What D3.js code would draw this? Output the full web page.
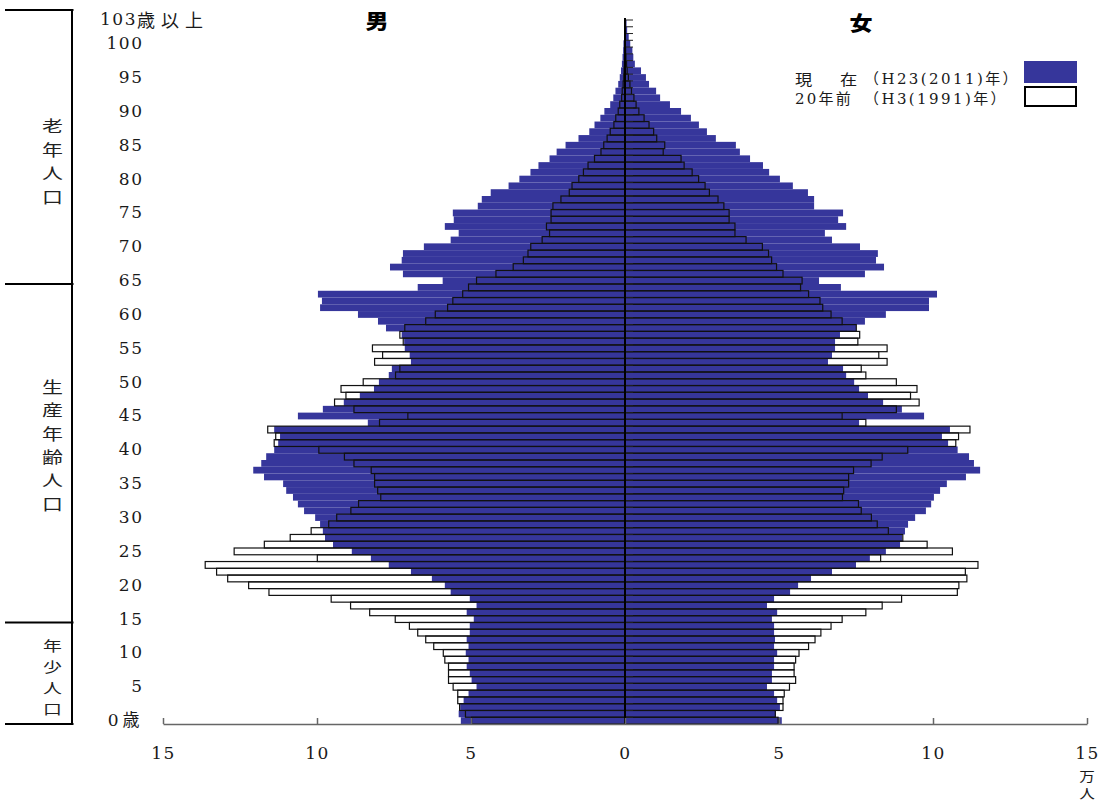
<!DOCTYPE html>
<html><head><meta charset="utf-8">
<script src="https://cdn.jsdelivr.net/npm/d3@7"></script>
<style>
html,body{margin:0;padding:0;background:#fff;}
svg{display:block;}
</style></head><body>
<svg id="chart" width="1105" height="802"></svg>
<script>
// ---- data (unit: 万人), index = age 0..103 (103 = 103歳以上) ----
const ages = d3.range(0, 104);

const male2011 = [
 5.33,5.40,5.35,5.24,5.08,4.82,4.98,5.04,5.14,5.08,
 5.17,5.08,5.14,5.04,5.04,4.91,5.14,4.82,5.04,5.66,
 5.85,6.27,6.95,7.67,8.25,8.87,9.48,9.74,9.81,9.90,
 10.06,10.42,10.62,10.78,11.00,11.10,11.72,12.07,11.81,11.65,
 11.39,11.26,11.20,11.39,8.35,10.62,9.81,9.13,8.61,8.15,
 7.99,7.67,7.57,6.95,6.99,7.15,7.17,7.25,7.76,8.02,
 8.67,9.90,9.84,9.97,6.73,5.92,7.21,7.63,7.25,7.21,
 6.53,5.66,5.40,5.85,5.56,5.59,4.78,4.65,4.36,3.78,
 3.43,3.07,2.81,2.45,2.22,1.93,1.51,1.16,0.99,0.80,
 0.67,0.48,0.38,0.31,0.22,0.17,0.13,0.10,0.08,0.06,
 0.05,0.03,0.02,0.02
];
const male1991 = [
 4.98,5.18,5.37,5.43,5.43,5.58,5.73,5.73,5.73,5.85,
 5.90,6.21,6.47,6.73,7.00,7.46,8.29,8.91,9.54,11.56,
 12.22,12.90,13.26,13.63,9.99,12.69,11.71,10.87,10.19,9.62,
 9.36,8.90,8.65,7.93,8.03,8.13,8.13,8.24,8.80,9.11,
 9.94,11.39,11.34,11.60,7.97,7.05,8.80,9.43,9.06,9.22,
 8.50,7.45,7.31,8.13,7.87,8.20,7.20,7.31,7.15,6.47,
 6.16,5.76,5.59,5.27,5.08,4.82,4.19,3.63,3.30,3.15,
 3.06,2.69,2.45,2.55,2.40,2.40,2.34,2.08,1.81,1.72,
 1.50,1.35,1.20,0.99,0.78,0.69,0.58,0.48,0.36,0.30,
 0.22,0.17,0.11,0.09,0.06,0.04,0.03,0.02,0.01,0.01,
 0.01,0,0,0
];
const female2011 = [
 5.09,4.90,5.03,4.94,4.84,4.61,4.77,4.77,4.84,4.84,
 4.94,4.84,4.87,4.84,4.84,4.77,4.94,4.61,4.84,5.36,
 5.62,6.04,6.72,7.50,7.95,8.47,8.93,9.00,9.09,9.19,
 9.42,9.77,9.94,10.03,10.23,10.45,11.07,11.53,11.33,11.17,
 10.80,10.49,10.29,10.55,7.60,9.71,8.99,8.38,7.89,7.60,
 7.44,7.18,7.08,6.59,6.72,6.82,6.82,6.98,7.50,7.79,
 8.47,9.87,9.87,10.13,7.01,6.30,7.79,8.41,8.15,8.21,
 7.63,6.72,6.49,7.18,6.92,7.08,6.14,6.14,5.94,5.45,
 5.03,4.68,4.48,4.06,3.73,3.60,2.95,2.66,2.40,2.14,
 1.82,1.46,1.14,1.01,0.78,0.68,0.52,0.32,0.27,0.24,
 0.17,0.12,0.07,0.05
];
const female1991 = [
 4.97,4.88,5.13,5.13,5.17,5.34,5.54,5.49,5.49,5.54,
 5.65,5.96,6.17,6.36,6.69,7.05,7.82,8.35,8.98,10.79,
 10.84,11.10,11.05,11.46,8.30,10.63,9.81,9.02,8.55,8.19,
 8.00,7.67,7.58,7.06,7.10,7.26,7.26,7.42,7.99,8.35,
 9.18,10.74,10.83,11.20,7.82,7.05,8.81,9.55,9.27,9.48,
 8.81,7.82,7.67,8.51,8.24,8.51,7.56,7.62,7.51,7.05,
 6.69,6.42,6.33,5.96,5.70,5.75,5.13,4.92,4.76,4.66,
 4.46,3.93,3.57,3.57,3.38,3.38,3.21,3.02,2.74,2.60,
 2.39,2.18,1.92,1.82,1.24,1.29,1.03,0.93,0.78,0.62,
 0.45,0.36,0.29,0.21,0.16,0.11,0.07,0.05,0.03,0.02,
 0.01,0.01,0,0
];

const ageTickValues = [0,5,10,15,20,25,30,35,40,45,50,55,60,65,70,75,80,85,90,95,100];
const ageTickLabels = ["0歳","5","10","15","20","25","30","35","40","45","50","55","60","65","70","75","80","85","90","95","100"];
const topAgeLabel = ["103", "歳以上"];
const xTickLeft = [5,10,15];
const xTickRight = [0,5,10,15];
const unitLabel = ["万","人"];
const headers = ["男","女"];
const legendLabels = [["現","在","（H23(2011)年）"],["20年前","（H3(1991)年）"]];
const groups = [
  {label:"老年人口", from:65, to:103},
  {label:"生産年齢人口", from:15, to:64},
  {label:"年少人口", from:0, to:14}
];

// ---- layout ----
const BLUE = "#36369b";
const SERIF = "'DejaVu Serif','Noto Sans CJK JP',serif";
const CJK = "'Noto Sans CJK JP','DejaVu Serif',sans-serif";
const svg = d3.select("#chart");
const cx = 625;
const y = d3.scaleBand().domain(ages).range([724, 20]).paddingInner(0).paddingOuter(0);
const bw = y.bandwidth();
const xL = d3.scaleLinear().domain([0, 15]).range([cx, 163]);
const xR = d3.scaleLinear().domain([0, 15]).range([cx, 1087]);

const rows = ages.map(a => ({a, m11: male2011[a], m91: male1991[a], f11: female2011[a], f91: female1991[a]}));

function txt(p, x, yy, s, o = {}) {
  const t = p.append("text")
    .attr("transform", `translate(${x},${yy}) scale(${o.sx || 1},1)`)
    .attr("text-anchor", o.anchor || "start")
    .attr("dominant-baseline", "central")
    .style("font-family", o.family || SERIF)
    .style("font-size", (o.size || 17) + "px")
    .style("font-weight", o.weight || 400)
    .attr("fill", o.fill || "#1a1a1a")
    .text(s);
  if (o.ls != null) t.style("letter-spacing", o.ls + "px");
  return t;
}
function fitWidth(t, target, sx = 1) {
  t.style("letter-spacing", "0px");
  const L = t.node().getComputedTextLength();
  const n = t.text().length;
  t.style("letter-spacing", ((target / sx - L) / n) + "px");
}

// layer 1: 1991 bars filled white
const g1 = svg.append("g");
g1.selectAll("rect.m").data(rows.filter(d => d.m91 > 0)).join("rect")
  .attr("x", d => xL(d.m91)).attr("y", d => y(d.a))
  .attr("width", d => cx - xL(d.m91)).attr("height", bw)
  .attr("fill", "#fff");
g1.selectAll("rect.f").data(rows.filter(d => d.f91 > 0)).join("rect")
  .attr("x", cx).attr("y", d => y(d.a))
  .attr("width", d => xR(d.f91) - cx).attr("height", bw)
  .attr("fill", "#fff");

// layer 2: 2011 bars blue
const g2 = svg.append("g");
g2.selectAll("rect.m").data(rows).join("rect")
  .attr("x", d => xL(d.m11)).attr("y", d => y(d.a))
  .attr("width", d => cx - xL(d.m11)).attr("height", bw)
  .attr("fill", BLUE);
g2.selectAll("rect.f").data(rows).join("rect")
  .attr("x", cx).attr("y", d => y(d.a))
  .attr("width", d => xR(d.f11) - cx).attr("height", bw)
  .attr("fill", BLUE);

// layer 3: 1991 outlines
const g3 = svg.append("g").attr("fill", "none").attr("stroke", "#111").attr("stroke-width", 1.2);
g3.selectAll("rect.m").data(rows.filter(d => d.m91 > 0)).join("rect")
  .attr("x", d => xL(d.m91)).attr("y", d => y(d.a))
  .attr("width", d => cx - xL(d.m91)).attr("height", bw);
g3.selectAll("rect.f").data(rows.filter(d => d.f91 > 0)).join("rect")
  .attr("x", cx).attr("y", d => y(d.a))
  .attr("width", d => xR(d.f91) - cx).attr("height", bw);

// centre axis with small ticks on the right
const gc = svg.append("g");
gc.selectAll("line.t").data(ages).join("line")
  .attr("x1", cx).attr("x2", cx + 8)
  .attr("y1", d => y(d)).attr("y2", d => y(d))
  .attr("stroke", "#222").attr("stroke-width", 1);
gc.append("line").attr("x1", cx).attr("x2", cx)
  .attr("y1", y(103) - 2).attr("y2", y(0) + bw)
  .attr("stroke", "#000").attr("stroke-width", 2);

// bottom axes
function styleAxis(g) {
  g.select(".domain").attr("stroke", "#666").attr("stroke-width", 1.5);
  g.selectAll(".tick line").attr("stroke", "#666").attr("stroke-width", 1.5);
  g.selectAll(".tick text").style("font-family", SERIF).style("font-size", "17px")
    .style("letter-spacing", "1.5px").attr("fill", "#1a1a1a");
}
const axY = y(0) + bw;
const gxl = svg.append("g").attr("transform", `translate(0,${axY})`)
  .call(d3.axisBottom(xL).tickValues(xTickLeft).tickSize(-6).tickSizeOuter(0).tickPadding(23).tickFormat(d3.format("d")));
styleAxis(gxl);
const gxr = svg.append("g").attr("transform", `translate(0,${axY})`)
  .call(d3.axisBottom(xR).tickValues(xTickRight).tickSize(-6).tickSizeOuter(0).tickPadding(23).tickFormat(d3.format("d")));
styleAxis(gxr);
txt(svg, xR(15), 775, unitLabel[0], {family: CJK, size: 13, anchor: "middle", sx: 1.2});
txt(svg, xR(15), 792, unitLabel[1], {family: CJK, size: 13, anchor: "middle", sx: 1.2});

// age labels
const gAge = svg.append("g").attr("transform", "translate(143.5,0)")
  .call(d3.axisLeft(y).tickValues(ageTickValues).tickSize(0).tickPadding(0)
    .tickFormat(d => ageTickLabels[ageTickValues.indexOf(d)]));
gAge.select(".domain").remove();
gAge.selectAll(".tick text").style("font-family", SERIF).style("font-size", "17px")
  .style("letter-spacing", d => d === 0 ? "4px" : "1.5px").attr("fill", "#1a1a1a");
const topT = svg.append("text").attr("x", 100).attr("y", 19).attr("dominant-baseline", "central")
  .attr("fill", "#1a1a1a").style("font-family", SERIF).style("font-size", "17px");
topT.append("tspan").style("letter-spacing", "1.5px").text(topAgeLabel[0]);
topT.append("tspan").style("font-family", CJK).style("font-size", "18px").style("letter-spacing", "6px").text(topAgeLabel[1]);

// group brackets
const gb = svg.append("g").attr("stroke", "#000").attr("stroke-width", 2);
const bx = 72;
gb.append("line").attr("x1", bx).attr("x2", bx).attr("y1", y(103) - 10).attr("y2", y(0) + bw);
const bounds = [y(103) - 10, y(64), y(14), y(0) + bw];
bounds.forEach(b => gb.append("line").attr("x1", 5).attr("x2", bx + 1.5).attr("y1", b).attr("y2", b));
const glab = [
  {chars: groups[0].label, y0: 125, step: 23.8, size: 15.5},
  {chars: groups[1].label, y0: 386, step: 23.4, size: 15.5},
  {chars: groups[2].label, y0: 645, step: 21, size: 14}
];
glab.forEach(g => {
  Array.from(g.chars).forEach((c, i) => {
    txt(svg, 52.5, g.y0 + i * g.step, c, {family: CJK, size: g.size, anchor: "middle", sx: 1.35, fill: "#222"});
  });
});

// headers
txt(svg, 377, 20, headers[0], {family: CJK, size: 20, anchor: "middle", weight: 900, sx: 1.15, fill: "#000"});
txt(svg, 861, 22, headers[1], {family: CJK, size: 20, anchor: "middle", weight: 900, sx: 1.15, fill: "#000"});

// legend
svg.append("rect").attr("x", 1024).attr("y", 61).attr("width", 53).attr("height", 22).attr("fill", BLUE);
svg.append("rect").attr("x", 1025).attr("y", 87).attr("width", 51).attr("height", 19)
  .attr("fill", "#fff").attr("stroke", "#000").attr("stroke-width", 2);
txt(svg, 795, 78.5, legendLabels[0][0], {family: CJK, size: 15, sx: 1.15});
txt(svg, 840, 78.5, legendLabels[0][1], {family: CJK, size: 15, sx: 1.15});
const l1 = txt(svg, 864, 78.5, legendLabels[0][2], {size: 15});
fitWidth(l1, 156);
const l2a = txt(svg, 795, 98.5, legendLabels[1][0], {size: 15});
fitWidth(l2a, 58);
const l2b = txt(svg, 864, 98.5, legendLabels[1][1], {size: 15});
fitWidth(l2b, 144);
</script>
</body></html>
